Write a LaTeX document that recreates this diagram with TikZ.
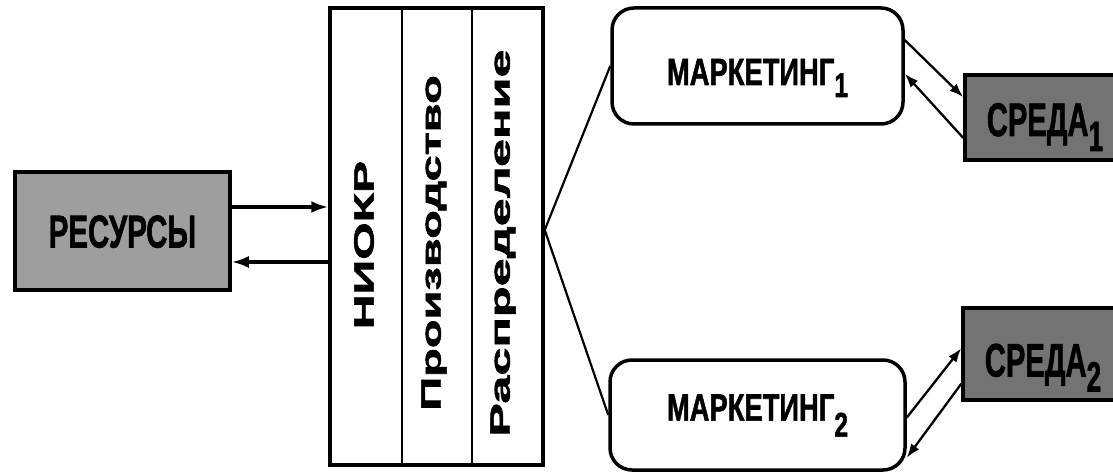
\documentclass[tikz,border=0pt]{standalone}
\usepackage{fontspec}
\setmainfont{Liberation Sans}
\newfontfamily\heavyfont[FakeBold=1.6]{Liberation Sans Bold}
\usetikzlibrary{arrows.meta}
\newcommand{\cnd}[2]{\scalebox{#1}[1]{#2}}
\newcommand{\lowsub}[2]{\raisebox{#1}{\scalebox{0.9}{#2}}}
\tikzset{
  box/.style={draw=black, line width=3.5pt, inner sep=0pt, font=\heavyfont},
  resbox/.style={box, fill=black!38},
  srbox/.style={box, fill=black!55},
  mkbox/.style={box, rounded corners=22pt, fill=white},
  mainbox/.style={draw=black, line width=3.5pt, inner sep=0pt},
  divider/.style={line width=2.5pt},
  coltext/.style={inner sep=0pt, rotate=90, font=\heavyfont\fontsize{28}{28}\selectfont},
  conn/.style={line width=2.2pt},
  bigarrow/.style={line width=3.2pt, -{Latex[length=17pt,width=12pt]}},
  smallarrow/.style={line width=2.3pt, -{Latex[length=14pt,width=10pt]}},
}
\begin{document}
\begin{tikzpicture}[x=1pt,y=-1pt]
\useasboundingbox (0,0) rectangle (1113,473);
\clip (0,0) rectangle (1113,473);

% resources
\node[resbox, minimum width=215pt, minimum height=118pt, text height=33pt, text depth=0pt]
  (res) at (122.5,231) {\fontsize{46}{46}\selectfont\cnd{0.64}{РЕСУРСЫ}};

% main block
\node[mainbox, minimum width=213pt, minimum height=457pt] (main) at (436.5,236.5) {};
\draw[divider] (main.north -| 402,0) -- (main.south -| 402,0);
\draw[divider] (main.north -| 472,0) -- (main.south -| 472,0);
\node[coltext] (niokr) at (364,245) {\cnd{1.72}{НИОКР}};
\node[coltext] (proizv) at (434,243) {\cnd{1.68}{Производство}};
\node[coltext] (raspr) at (503,243) {\cnd{1.8}{Распределение}};

% marketing
\node[mkbox, minimum width=291pt, minimum height=116pt, text height=38pt, text depth=0pt]
  (mk1) at (757.5,66) {\fontsize{38}{38}\selectfont\cnd{0.72}{МАРКЕТИНГ\lowsub{-12pt}{1}}};
\node[mkbox, minimum width=295pt, minimum height=110pt, text height=27.2pt, text depth=16pt]
  (mk2) at (757.5,415) {\fontsize{38}{38}\selectfont\cnd{0.72}{МАРКЕТИНГ\lowsub{-16pt}{2}}};

% environment
\node[srbox, minimum width=160pt, minimum height=85pt, text height=37pt, text depth=0pt]
  (sr1) at (1045,117.5) {\fontsize{47}{47}\selectfont\cnd{0.62}{СРЕДА\lowsub{-15pt}{1}}};
\node[srbox, minimum width=160pt, minimum height=92pt, text height=45pt, text depth=0pt]
  (sr2) at (1043,354) {\fontsize{47}{47}\selectfont\cnd{0.62}{СРЕДА\lowsub{-15pt}{2}}};

% connectors
\draw[bigarrow] (res.east |- 0,207) -- (main.west |- 0,207);
\draw[bigarrow] (main.west |- 0,262) -- (res.east |- 0,262);
\draw[conn] (mk1.west) -- (main.east |- 0,230) -- (mk2.west);
\draw[smallarrow] (mk1.10) -- (sr1.166);
\draw[smallarrow] (sr1.194) -- (mk1.-3);
\draw[smallarrow] (mk2.-1) -- (sr2.176);
\draw[smallarrow] (sr2.200) -- (mk2.-16);
\end{tikzpicture}
\end{document}
